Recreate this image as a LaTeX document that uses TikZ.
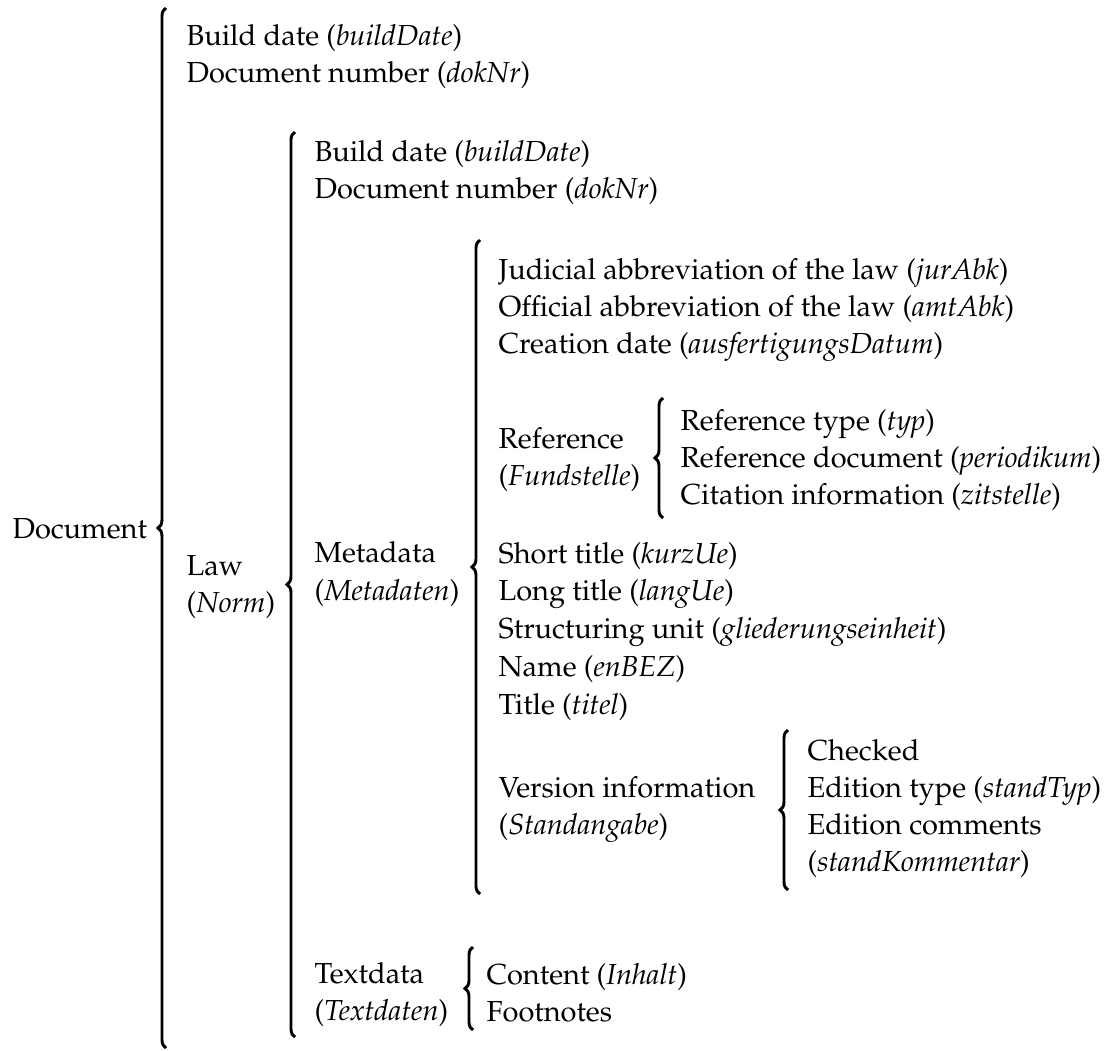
\documentclass[tikz,border=0pt]{standalone}
\usepackage[T1]{fontenc}
\usepackage{mathpazo}
\usepackage{tikz}
\usetikzlibrary{decorations.pathreplacing}
\tikzset{
  itemtxt/.style={anchor=base west, inner sep=0pt, font=\fontsize{9.4pt}{11.3pt}\selectfont},
  bracer/.style={decorate, decoration={brace, amplitude=2.6pt, aspect=0.5}, line width=0.95pt},
}

\begin{document}
\begin{tikzpicture}[x=0.3243pt, y=-0.3243pt]
    \useasboundingbox (0,0) rectangle (1112,1050);

    % root
    \node[itemtxt] (doc) at (12,538) {Document};
    \draw[bracer] (166,1048) -- (166,8);
    \node[itemtxt] (bd1) at (186,45) {Build date (\textit{buildDate})};
    \node[itemtxt] (dn1) at (186,82) {Document number (\textit{dokNr})};
    \node[itemtxt] (law) at (186,575) {Law};
    \node[itemtxt] (lawde) at (186,612) {(\textit{Norm})};

    % law
    \draw[bracer] (295,1037) -- (295,132);
    \node[itemtxt] (bd2) at (314,161) {Build date (\textit{buildDate})};
    \node[itemtxt] (dn2) at (314,198) {Document number (\textit{dokNr})};
    \node[itemtxt] (meta) at (314,562) {Metadata};
    \node[itemtxt] (metade) at (314,600) {(\textit{Metadaten})};
    \node[itemtxt] (txt) at (314,983) {Textdata};
    \node[itemtxt] (txtde) at (314,1020) {(\textit{Textdaten})};

    % metadata
    \draw[bracer] (480,894) -- (480,240);
    \node[itemtxt] (jur) at (498,279) {Judicial abbreviation of the law (\textit{jurAbk})};
    \node[itemtxt] (amt) at (498,316) {Official abbreviation of the law (\textit{amtAbk})};
    \node[itemtxt] (ausf) at (498,353) {Creation date (\textit{ausfertigungsDatum})};
    \node[itemtxt] (fund) at (498,448) {Reference};
    \node[itemtxt] (fundde) at (498,485) {(\textit{Fundstelle})};
    \node[itemtxt] (kurz) at (498,563) {Short title (\textit{kurzUe})};
    \node[itemtxt] (lang) at (498,600) {Long title (\textit{langUe})};
    \node[itemtxt] (glied) at (498,638) {Structuring unit (\textit{gliederungseinheit})};
    \node[itemtxt] (bez) at (498,676) {Name (\textit{enBEZ})};
    \node[itemtxt] (titel) at (498,714) {Title (\textit{titel})};
    \node[itemtxt] (stand) at (498,797) {Version information};
    \node[itemtxt] (standde) at (498,834) {(\textit{Standangabe})};

    % reference
    \draw[bracer] (663,518) -- (663,398);
    \node[itemtxt] (typ) at (680,430) {Reference type (\textit{typ})};
    \node[itemtxt] (period) at (680,467) {Reference document (\textit{periodikum})};
    \node[itemtxt] (zit) at (680,504) {Citation information (\textit{zitstelle})};

    % version information
    \draw[bracer] (788,890) -- (788,730);
    \node[itemtxt] (chk) at (807,760) {Checked};
    \node[itemtxt] (stTyp) at (807,797) {Edition type (\textit{standTyp})};
    \node[itemtxt] (stKom) at (807,834) {Edition comments};
    \node[itemtxt] (stKomde) at (807,871) {(\textit{standKommentar})};

    % textdata
    \draw[bracer] (473,1030) -- (473,947);
    \node[itemtxt] (inh) at (486,984) {Content (\textit{Inhalt})};
    \node[itemtxt] (fn) at (486,1021) {Footnotes};
\end{tikzpicture}
\end{document}
